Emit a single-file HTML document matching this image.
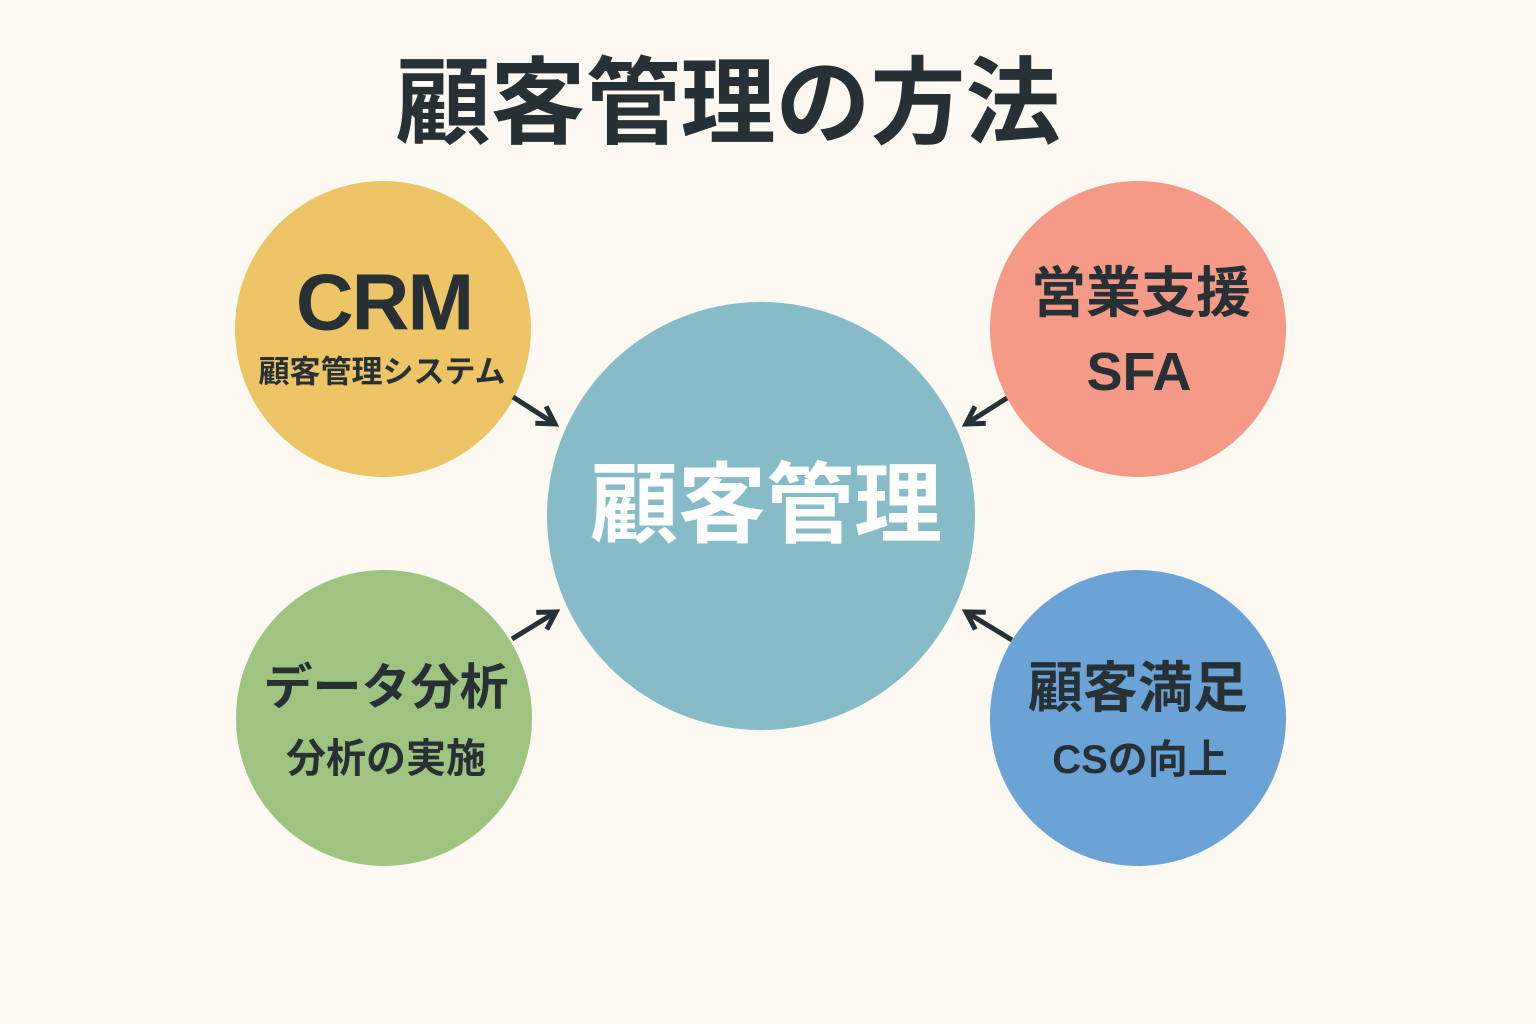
<!DOCTYPE html>
<html>
<head>
<meta charset="utf-8">
<style>
html,body{margin:0;padding:0;background:#fcf9f2;}
svg{display:block;}
text{font-family:"Liberation Sans","Noto Sans CJK JP",sans-serif;font-weight:700;}
</style>
</head>
<body>
<svg width="1536" height="1024" viewBox="0 0 1536 1024" xmlns="http://www.w3.org/2000/svg">
<defs>
<marker id="ah" viewBox="0 0 28 28" refX="23" refY="14" markerWidth="28" markerHeight="28" markerUnits="userSpaceOnUse" orient="auto">
<path d="M6,4 L23,14 L6,24" fill="none" stroke="#263035" stroke-width="5" stroke-linejoin="miter"/>
</marker>
</defs>
<rect width="1536" height="1024" fill="#fcf9f2"/>

<text x="728" y="104" font-size="95" fill="#263035" text-anchor="middle" dominant-baseline="central" font-family="'Noto Sans CJK JP',sans-serif">顧客管理の方法</text>

<!-- circles -->
<circle cx="383" cy="329" r="148" fill="#edc466"/>
<circle cx="1138" cy="329" r="148" fill="#f49a86"/>
<circle cx="384" cy="718" r="148" fill="#9ec480"/>
<circle cx="1138" cy="718" r="148" fill="#6ca3d6"/>
<circle cx="761" cy="516" r="214" fill="#85bcc8"/>

<!-- arrows -->
<g stroke="#263035" stroke-width="5" fill="none" marker-end="url(#ah)">
<line x1="513" y1="397" x2="555" y2="424"/>
<line x1="1007" y1="398" x2="966" y2="424"/>
<line x1="512" y1="639" x2="556" y2="612"/>
<line x1="1012" y1="640" x2="966" y2="612"/>
</g>

<!-- CRM -->
<text x="384" y="302" font-size="80" fill="#263035" text-anchor="middle" dominant-baseline="central" letter-spacing="-2">CRM</text>
<text x="382" y="372" font-size="31" fill="#263035" text-anchor="middle" dominant-baseline="central">顧客管理システム</text>

<!-- SFA -->
<text x="1141" y="293" font-size="55" fill="#263035" text-anchor="middle" dominant-baseline="central">営業支援</text>
<text x="1139" y="372" font-size="54" fill="#263035" text-anchor="middle" dominant-baseline="central">SFA</text>

<!-- data -->
<text x="386" y="688" font-size="49" fill="#263035" text-anchor="middle" dominant-baseline="central">データ分析</text>
<text x="386" y="759" font-size="40" fill="#263035" text-anchor="middle" dominant-baseline="central">分析の実施</text>

<!-- CS -->
<text x="1138" y="688" font-size="55" fill="#263035" text-anchor="middle" dominant-baseline="central">顧客満足</text>
<text x="1140" y="760" font-size="40" fill="#263035" text-anchor="middle" dominant-baseline="central">CSの向上</text>

<!-- center -->
<text x="766" y="505" font-size="88" fill="#ffffff" text-anchor="middle" dominant-baseline="central" font-family="'Noto Sans CJK JP',sans-serif">顧客管理</text>
</svg>
</body>
</html>
